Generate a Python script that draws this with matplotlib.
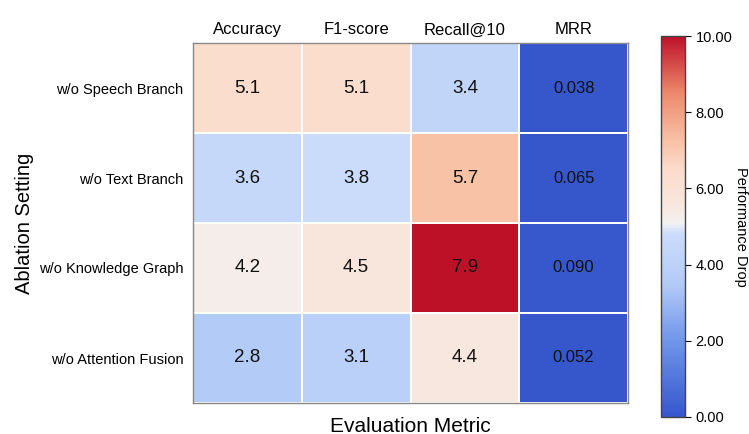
import numpy as np
import matplotlib
matplotlib.use("Agg")
import matplotlib.pyplot as plt
from matplotlib.colors import Normalize, LinearSegmentedColormap
from matplotlib.cm import ScalarMappable

plt.rcParams['font.family'] = ['Liberation Sans', 'DejaVu Sans']

settings = ["w/o Speech Branch", "w/o Text Branch", "w/o Knowledge Graph", "w/o Attention Fusion"]
metrics = ["Accuracy", "F1-score", "Recall@10", "MRR"]
accuracy = [5.1, 3.6, 4.2, 2.8]
f1_score = [5.1, 3.8, 4.5, 3.1]
recall_10 = [3.4, 5.7, 7.9, 4.4]
mrr = [0.038, 0.065, 0.090, 0.052]

data = np.column_stack([accuracy, f1_score, recall_10, mrr])
nrows, ncols = data.shape

# soft blue-white-red diverging palette
cmap = LinearSegmentedColormap.from_list("soft_coolwarm", [
    (0.00, "#3656cc"),
    (0.20, "#7096ea"),
    (0.35, "#b3cbf7"),
    (0.48, "#cadcfa"),
    (0.51, "#f2f1f1"),
    (0.56, "#f8e6dd"),
    (0.65, "#fbdccc"),
    (0.72, "#f8c3a8"),
    (0.85, "#ee8a6c"),
    (1.00, "#bd1128"),
])

fig = plt.figure(figsize=(7.49, 4.34), dpi=100)
ax = fig.add_axes([193/749, 1-403/434, 435/749, 360/434])

cell_norm = Normalize(vmin=data.min(), vmax=data.max())
ax.pcolormesh(np.arange(ncols+1), np.arange(nrows+1), data, cmap=cmap, norm=cell_norm,
              edgecolors='white', linewidth=1.2)
ax.set_xlim(0, ncols)
ax.set_ylim(nrows, 0)

for i in range(nrows):
    for j in range(ncols):
        v = data[i, j]
        if j == ncols - 1:
            ax.text(j+0.5, i+0.5, f"{v:.3f}", ha='center', va='center', fontsize=12, color='#111111')
        else:
            ax.text(j+0.5, i+0.5, f"{v:.1f}", ha='center', va='center', fontsize=13.5, color='#111111')

ax.xaxis.tick_top()
ax.set_xticks(np.arange(ncols)+0.5)
ax.set_xticklabels(metrics, fontsize=12)
ax.set_yticks(np.arange(nrows)+0.5)
ax.set_yticklabels(settings, fontsize=10.5)
ax.tick_params(axis='x', length=0, pad=4)
ax.tick_params(axis='y', length=0, pad=7)
for s in ax.spines.values():
    s.set_color('#888888')
    s.set_linewidth(1.0)

fig.text(25/749, 1-223/434, "Ablation Setting", rotation=90, ha='center', va='center', fontsize=14.5)
fig.text(410/749, 1-426/434, "Evaluation Metric", ha='center', va='center', fontsize=15)

cax = fig.add_axes([661/749, 1-417/434, 24/749, 381/434])
sm = ScalarMappable(norm=Normalize(vmin=0, vmax=10), cmap=cmap)
cb = fig.colorbar(sm, cax=cax, ticks=[0, 2, 4, 6, 8, 10], format='%.2f')
cb.ax.tick_params(labelsize=10.5, length=4)
cb.outline.set_linewidth(1.0)
cb.outline.set_edgecolor('#444444')
cb.set_label("Performance Drop", rotation=270, labelpad=11, fontsize=10.5)

fig.savefig("out.png", dpi=100)
